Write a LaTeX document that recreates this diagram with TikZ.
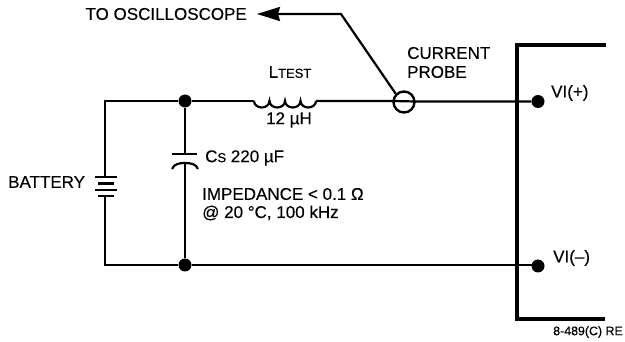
\documentclass[tikz,border=0pt]{standalone}
\usepackage{fontspec}
\setmainfont[FakeBold=0.3]{Liberation Sans}
\usetikzlibrary{arrows.meta}
\tikzset{
  wire/.style={line width=2.2pt,line cap=butt},
  heavy/.style={line width=3.5pt},
  junction/.style={circle,fill=black,draw=none,minimum size=13pt,inner sep=0pt},
  lbl/.style={inner sep=0pt,anchor=west,font=\fontsize{17}{19}\selectfont,align=left},
  plate/.style={line width=2.2pt}
}
\begin{document}
\begin{tikzpicture}[x=1pt,y=-1pt]
\useasboundingbox (0,0) rectangle (625,342);
% corners and terminals
\coordinate (tl) at (105,101);
\coordinate (bl) at (105,265);
\node[junction] (jt) at (185,101) {};
\node[junction] (jb) at (185,265) {};
\node[junction] (vp) at (538,101.5) {};
\node[junction] (vm) at (538,266) {};
\coordinate (l1) at (254,101);
\coordinate (l2) at (316,101);
\node[circle,draw=black,line width=2.4pt,minimum size=21pt,inner sep=0pt] (probe) at (404,102) {};
\coordinate (bat1) at (105,177);
\coordinate (bat2) at (105,196);
\coordinate (cap1) at (185,154);
\coordinate (cap2) at (185,163);
\coordinate (pl) at (probe.west |- l2);
\coordinate (pr) at (probe.east |- vp);
% wires
\draw[wire,line join=miter] (jt) -- (tl) -- (bat1);
\draw[wire,line join=miter] (bat2) -- (bl) -- (jb);
\draw[wire] (jb) -- (jb -| vm) ;
\draw[wire] (jt) -- (l1);
\draw[wire] (l2) -- (pl) -- (pr) -- (vp);
\draw[wire] (jt) -- (cap1);
\draw[wire] (cap2) -- (jb);
% inductor
\draw[wire] (l1) arc[start angle=180,end angle=0,x radius=7.75,y radius=6.5]
  arc[start angle=180,end angle=0,x radius=7.75,y radius=6.5]
  arc[start angle=180,end angle=0,x radius=7.75,y radius=6.5]
  arc[start angle=180,end angle=0,x radius=7.75,y radius=6.5];
% capacitor
\draw[plate] (172,154) -- (197,154);
\draw[plate] (172,169) .. controls (174,164) and (179,163) .. (cap2) .. controls (191,163) and (196,164) .. (198,169);
% battery
\draw[plate] (95,177) -- (117,177);
\draw[plate] (98,183.5) -- (114,183.5);
\draw[plate] (95,190) -- (117,190);
\draw[plate] (98,196) -- (114,196);
% chassis
\coordinate (bx1) at (606,45);
\coordinate (bx2) at (517,45);
\coordinate (bx3) at (517,319);
\coordinate (bx4) at (605,319);
\draw[heavy,line join=miter] (bx1) -- (bx2) -- (bx3) -- (bx4);
% probe lead
\coordinate (lead) at (341,14);
\coordinate (tip) at (257,14);
\draw[line width=2.2pt,-{Stealth[length=23pt,width=14pt,inset=2pt]}] (probe.north west) -- (lead) -- (tip);
% labels
\node[lbl,anchor=east] (t1) at (247,14) {TO OSCILLOSCOPE};
\node[lbl] (t2) at (407,53) {CURRENT};
\node[lbl] (t3) at (407,72) {PROBE};
\node[lbl,anchor=center] (t4) at (290,72) {L{\fontsize{13}{14}\selectfont TEST}};
\node[lbl,anchor=center] (t5) at (289,120) {12 µH};
\node[lbl] (t6) at (205,158) {C{\fontsize{13}{14}\selectfont S} 220 µF};
\node[lbl] (t7) at (202,194) {IMPEDANCE < 0.1 Ω};
\node[lbl] (t8) at (202,213) {@ 20 °C, 100 kHz};
\node[lbl] (t9) at (8,182) {BATTERY};
\node[lbl] (t10) at (551,93) {VI(+)};
\node[lbl] (t11) at (553,258) {VI(–)};
\node[lbl,font=\fontsize{12.4}{14}\selectfont] (t12) at (553,332) {8-489(C) RE};
\end{tikzpicture}
\end{document}
